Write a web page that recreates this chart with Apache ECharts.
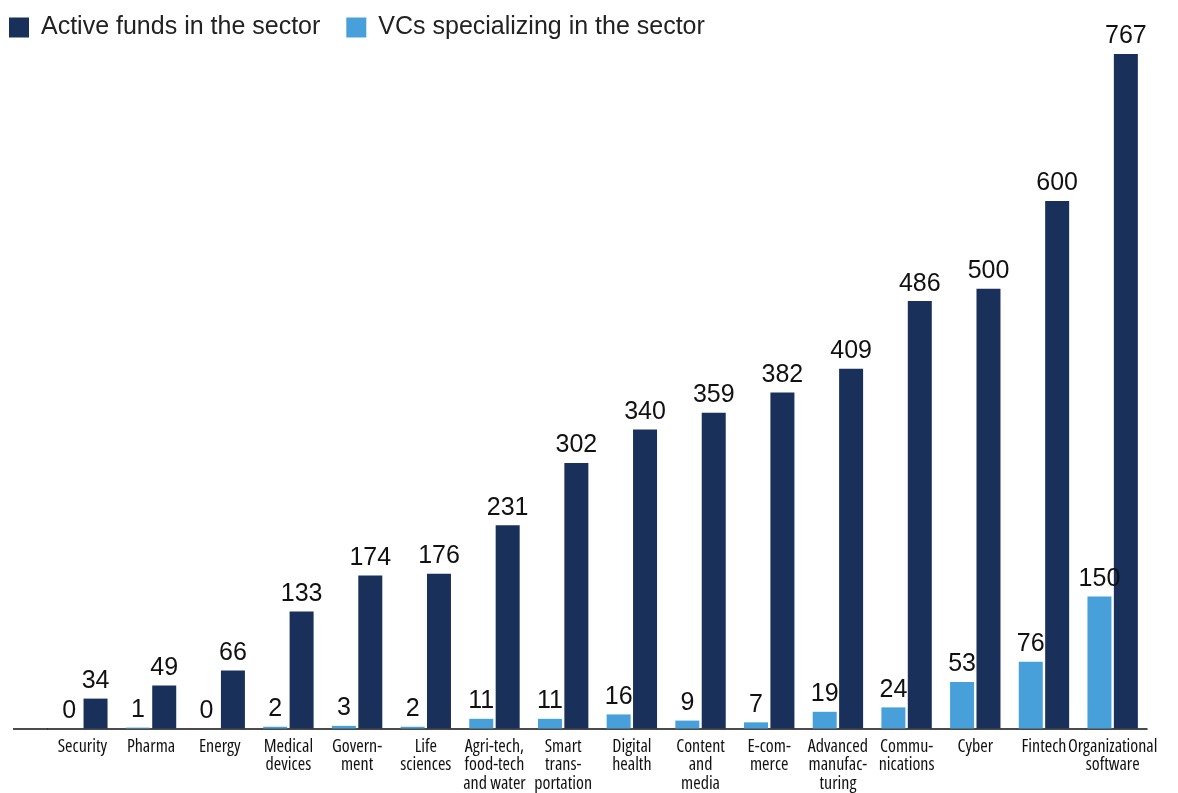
<!DOCTYPE html>
<html>
<head>
<meta charset="utf-8">
<style>
  html, body { margin: 0; padding: 0; background: #ffffff; }
  #chart { width: 1178px; height: 793px; }
</style>
<script src="https://cdn.jsdelivr.net/npm/echarts@6/dist/echarts.min.js"></script>
</head>
<body>
<div id="chart"></div>
<script>
// Sectors, ordered by number of active funds
const sectors = [
  'Security', 'Pharma', 'Energy', 'Medical\ndevices', 'Govern-\nment',
  'Life\nsciences', 'Agri-tech,\nfood-tech\nand water', 'Smart\ntrans-\nportation',
  'Digital\nhealth', 'Content\nand\nmedia', 'E-com-\nmerce', 'Advanced\nmanufac-\nturing',
  'Commu-\nnications', 'Cyber', 'Fintech', 'Organizational\nsoftware'
];

// VCs that specialize in each sector
const specializedVCs = [0, 1, 0, 2, 3, 2, 11, 11, 16, 9, 7, 19, 24, 53, 76, 150];

// Active funds investing in each sector
const activeFunds = [34, 49, 66, 133, 174, 176, 231, 302, 340, 359, 382, 409, 486, 500, 600, 767];

const seriesNames = ['Active funds in the sector', 'VCs specializing in the sector'];

const NAVY = '#19305b';
const SKY = '#47a0d9';

const chart = echarts.init(document.getElementById('chart'), null, { renderer: 'canvas' });

const valueLabel = {
  show: true,
  position: 'top',
  distance: 5,
  color: '#111111',
  fontFamily: '"Liberation Sans", Arial, sans-serif',
  fontSize: 25
};

chart.setOption({
  animation: false,
  backgroundColor: '#ffffff',
  legend: {
    data: seriesNames,
    left: 4,
    top: 10,
    itemWidth: 20,
    itemHeight: 20,
    itemGap: 26,
    icon: 'rect',
    textStyle: {
      color: '#222222',
      fontFamily: '"Liberation Sans", Arial, sans-serif',
      fontSize: 25,
      padding: [0, 0, 0, 7]
    }
  },
  grid: { left: 48, right: 31, top: 25, bottom: 64, containLabel: false },
  xAxis: {
    type: 'category',
    data: sectors,
    axisTick: { show: false },
    axisLine: { lineStyle: { color: '#111111', width: 1.5 } },
    axisLabel: {
      interval: 0,
      margin: 9,
      color: '#111111',
      // narrow width of the variable Open Sans face
      fontStyle: 'normal',
      fontWeight: 'condensed',
      fontFamily: '"Open Sans", sans-serif',
      fontSize: 18,
      lineHeight: 18.5
    }
  },
  yAxis: {
    type: 'value',
    min: 0,
    max: 800,
    show: false,
    splitLine: { show: false }
  },
  series: [
    {
      name: seriesNames[1],
      type: 'bar',
      data: specializedVCs,
      barWidth: 24,
      barGap: '10%',
      itemStyle: { color: SKY },
      label: valueLabel
    },
    {
      name: seriesNames[0],
      type: 'bar',
      data: activeFunds,
      barWidth: 24,
      barGap: '10%',
      itemStyle: { color: NAVY },
      label: valueLabel
    }
  ],
  graphic: [
    {
      // baseline continues a little to the left of the first sector
      type: 'line',
      shape: { x1: 13, y1: 729, x2: 48, y2: 729 },
      style: { stroke: '#111111', lineWidth: 1.5 }
    }
  ]
});
</script>
</body>
</html>
